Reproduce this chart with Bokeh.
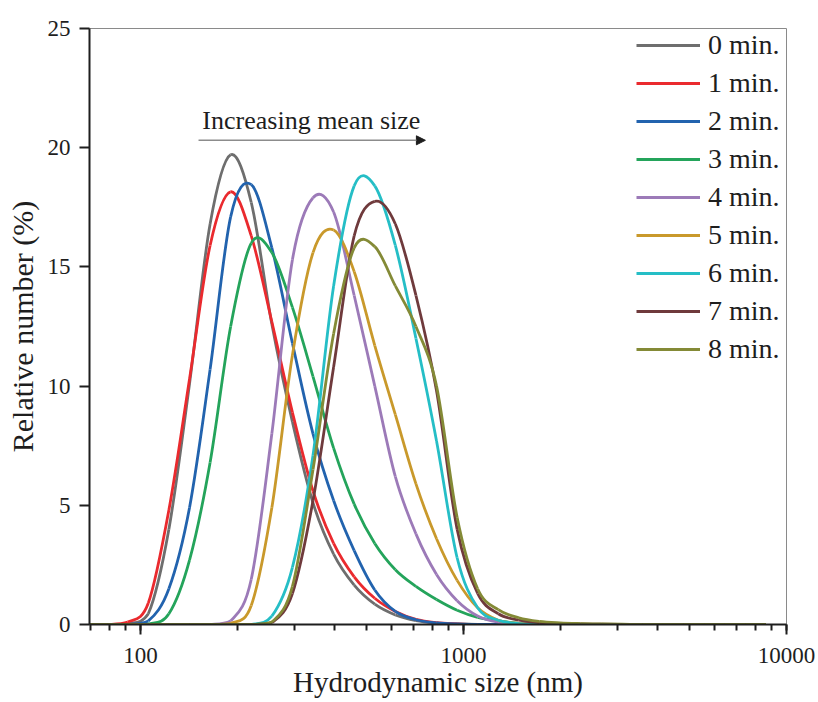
import numpy as np
from bokeh.plotting import figure
from bokeh.models import (Range1d, SingleIntervalTicker, NumeralTickFormatter,
                          Legend, LegendItem, Label, Arrow, NormalHead, ColumnDataSource)
from bokeh.embed import file_html
from bokeh.resources import INLINE

# Hydrodynamic size bins (nm)
sizes = [68.06, 78.82, 91.28, 105.7, 122.4, 141.8, 164.2, 190.1, 220.2, 255.0,
         295.3, 342.0, 396.1, 458.7, 531.2, 615.1, 712.4, 825.0, 955.4, 1106,
         1281, 1484, 1718, 1990, 2305, 2669, 3091, 3580, 4145, 4801,
         5560, 6439, 7456, 8635]

# Relative number (%) per bin, one list per sonication time
rel_0min = [0, 0, 0.03, 0.45, 4.0, 10.1, 16.8, 19.7, 17.7, 12.6,
            8.5, 5.1, 2.95, 1.65, 0.85, 0.4, 0.16, 0.06, 0.02, 0,
            0, 0, 0, 0, 0, 0, 0, 0, 0, 0, 0, 0, 0, 0]
rel_1min = [0, 0, 0.1, 0.9, 4.8, 10.3, 15.9, 18.15, 16.3, 12.7,
            8.9, 5.6, 3.4, 2.0, 1.1, 0.55, 0.22, 0.08, 0.03, 0,
            0, 0, 0, 0, 0, 0, 0, 0, 0, 0, 0, 0, 0, 0]
rel_2min = [0, 0, 0, 0.15, 1.5, 4.9, 10.7, 17.1, 18.45, 15.8,
            11.8, 8.0, 5.2, 3.1, 1.45, 0.55, 0.2, 0.07, 0.02, 0,
            0, 0, 0, 0, 0, 0, 0, 0, 0, 0, 0, 0, 0, 0]
rel_3min = [0, 0, 0, 0.02, 0.45, 2.7, 6.8, 12.5, 16.0, 15.6,
            13.3, 10.4, 7.4, 5.05, 3.4, 2.3, 1.6, 1.05, 0.6, 0.3,
            0.15, 0.05, 0.02, 0, 0, 0, 0, 0, 0, 0, 0, 0, 0, 0]
rel_4min = [0, 0, 0, 0, 0, 0, 0, 0.15, 1.9, 8.0,
            15.3, 17.9, 17.3, 13.8, 10.0, 6.2, 3.8, 2.1, 1.0, 0.36,
            0.1, 0.03, 0.01, 0, 0, 0, 0, 0, 0, 0, 0, 0, 0, 0]
rel_5min = [0, 0, 0, 0, 0, 0, 0, 0.05, 0.8, 4.9,
            11.3, 15.6, 16.55, 14.8, 11.7, 8.8, 5.9, 3.6, 1.85, 0.7,
            0.18, 0.05, 0.01, 0, 0, 0, 0, 0, 0, 0, 0, 0, 0, 0]
rel_6min = [0, 0, 0, 0, 0, 0, 0, 0, 0, 0.35,
            2.4, 7.1, 14.2, 18.4, 18.4, 15.9, 12.0, 7.7, 2.8, 0.7,
            0.18, 0.04, 0.01, 0, 0, 0, 0, 0, 0, 0, 0, 0, 0, 0]
rel_7min = [0, 0, 0, 0, 0, 0, 0, 0, 0, 0.08,
            1.3, 5.2, 10.8, 16.3, 17.75, 16.8, 13.8, 9.8, 4.0, 1.3,
            0.45, 0.18, 0.08, 0.04, 0.02, 0.01, 0, 0, 0, 0, 0, 0, 0, 0]
rel_8min = [0, 0, 0, 0, 0, 0, 0, 0, 0, 0.1,
            1.6, 6.5, 12.2, 15.8, 15.85, 14.2, 12.5, 10.0, 4.5, 1.5,
            0.62, 0.28, 0.13, 0.07, 0.04, 0.02, 0.01, 0, 0, 0, 0, 0, 0, 0]

labels = ["0 min.", "1 min.", "2 min.", "3 min.", "4 min.",
          "5 min.", "6 min.", "7 min.", "8 min."]
colors = ["#6e6e6e", "#ea2a2e", "#2263ae", "#24a45b", "#9c7ab8",
          "#c9992b", "#25bec6", "#6f3a3c", "#848a36"]
series = [rel_0min, rel_1min, rel_2min, rel_3min, rel_4min,
          rel_5min, rel_6min, rel_7min, rel_8min]

FONT = "Liberation Serif"
INK = "#1e1e1e"

p = figure(width=818, height=702, x_axis_type="log",
           x_range=Range1d(69.5, 10000), y_range=Range1d(0, 25),
           output_backend="svg", toolbar_location=None,
           min_border_left=89, min_border_right=32,
           min_border_top=28, min_border_bottom=78)
p.xgrid.visible = False
p.ygrid.visible = False
p.outline_line_color = "#8a8a8a"
p.outline_line_width = 1
p.background_fill_color = "white"
p.border_fill_color = "white"


def smooth_segments(xs, ys):
    """Catmull-Rom segments in log-x space, returned as cubic Bezier controls."""
    lx = np.log10(np.asarray(xs, dtype=float))
    yv = np.asarray(ys, dtype=float)
    lxe = np.concatenate([[2 * lx[0] - lx[1]], lx, [2 * lx[-1] - lx[-2]]])
    ye = np.concatenate([[yv[0]], yv, [yv[-1]]])
    n = len(lx)
    out = dict(x0=[], y0=[], x1=[], y1=[], cx0=[], cy0=[], cx1=[], cy1=[])
    for i in range(n - 1):
        ax, ay = lxe[i], ye[i]
        bx, by = lxe[i + 1], ye[i + 1]
        cx, cy = lxe[i + 2], ye[i + 2]
        dx, dy = lxe[i + 3], ye[i + 3]
        out["x0"].append(10 ** bx)
        out["y0"].append(by)
        out["x1"].append(10 ** cx)
        out["y1"].append(cy)
        out["cx0"].append(10 ** (bx + (cx - ax) / 6))
        out["cy0"].append(max(0.0, by + (cy - ay) / 6))
        out["cx1"].append(10 ** (cx - (dx - bx) / 6))
        out["cy1"].append(max(0.0, cy - (dy - by) / 6))
    return out


items = []
for lab, vals, col in zip(labels, series, colors):
    src = ColumnDataSource(smooth_segments(sizes, vals))
    p.bezier(x0="x0", y0="y0", x1="x1", y1="y1", cx0="cx0", cy0="cy0",
             cx1="cx1", cy1="cy1", source=src, line_color=col, line_width=2.8)
    # one-point line: draws nothing in the plot, supplies the legend swatch
    key = p.line(x=sizes[:1], y=vals[:1], line_color=col, line_width=3)
    items.append(LegendItem(label=lab, renderers=[key]))

# axes
xa = p.xaxis[0]
ya = p.yaxis[0]
xa.formatter = NumeralTickFormatter(format="0")
ya.ticker = SingleIntervalTicker(interval=5, num_minor_ticks=0)
for ax in (xa, ya):
    ax.axis_line_color = INK
    ax.axis_line_width = 2
    ax.major_tick_line_color = INK
    ax.major_tick_line_width = 2
    ax.major_tick_in = 0
    ax.major_tick_out = 10
    ax.minor_tick_line_color = INK
    ax.minor_tick_line_width = 2
    ax.minor_tick_in = 0
    ax.minor_tick_out = 6
    ax.major_label_text_font = FONT
    ax.major_label_text_font_size = "23px"
    ax.major_label_text_color = INK
    ax.axis_label_text_font = FONT
    ax.axis_label_text_font_style = "normal"
    ax.axis_label_text_color = INK
ya.minor_tick_line_color = None
xa.major_label_standoff = 13
ya.major_label_standoff = 9
xa.axis_label = "Hydrodynamic size (nm)"
ya.axis_label = "Relative number (%)"
xa.axis_label_text_font_size = "29px"
ya.axis_label_text_font_size = "30px"
xa.axis_label_standoff = 0
ya.axis_label_standoff = 6

# trend annotation
p.add_layout(Label(x=338, y=21.14, text="Increasing mean size",
                   text_align="center", text_baseline="middle",
                   text_font=FONT, text_font_size="26px", text_color=INK))
p.add_layout(Arrow(x_start=151.2, y_start=20.31, x_end=762, y_end=20.31,
                   line_color="#8c8c8c", line_width=1.5,
                   end=NormalHead(size=9, fill_color=INK, line_color=INK)))

legend = Legend(items=items, location=(547, 259), orientation="vertical",
                border_line_color=None, background_fill_alpha=0,
                padding=0, margin=0, spacing=6, glyph_width=64,
                glyph_height=32, label_height=32, label_standoff=8,
                label_text_font=FONT, label_text_font_size="28px",
                label_text_color=INK)
p.add_layout(legend)

open("out.html", "w").write(file_html(p, INLINE))
